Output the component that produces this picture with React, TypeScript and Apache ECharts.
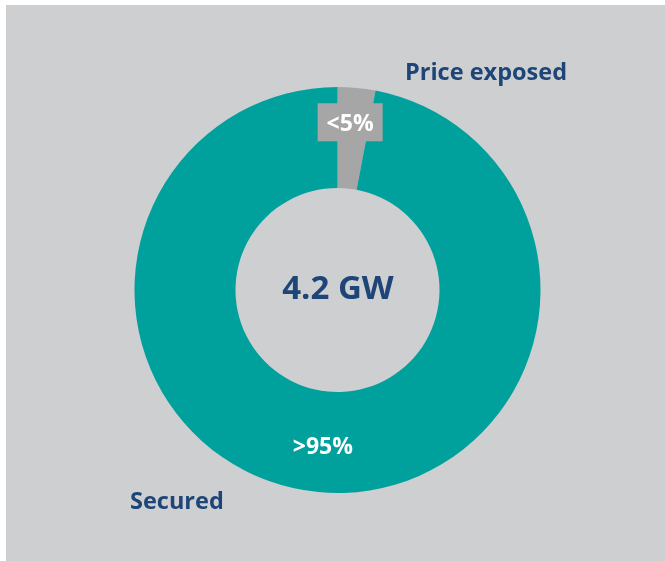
import React, { useEffect, useRef } from "react";
import * as echarts from "echarts";

const categories = ["Price exposed", "Secured"];
const values = [3, 97];
const shareLabels = ["<5%", ">95%"];
const centerLabel = "4.2 GW";
const colors = ["#a6a6a6", "#00a19d"];

const FONT = "'Open Sans', 'DejaVu Sans', sans-serif";
const BLUE = "#1d4577";

export default function App() {
  const ref = useRef<HTMLDivElement>(null);
  useEffect(() => {
    if (!ref.current) return;
    const chart = echarts.init(ref.current, undefined, { renderer: "svg" });
    const data = categories.map((name, i) => ({
      name,
      value: values[i],
      itemStyle: { color: colors[i] },
      label:
        i === 0
          ? {
              backgroundColor: colors[0],
              padding: [8, 9, 8, 9],
              lineHeight: 22,
            }
          : {},
    }));
    chart.setOption({
      animation: false,
      graphic: [
        {
          type: "rect",
          z: -10,
          shape: { x: 6, y: 5, width: 659, height: 556 },
          style: { fill: "#cecfd1" },
        },
        {
          type: "text",
          x: 338,
          y: 286,
          style: {
            text: centerLabel,
            fill: BLUE,
            font: `bold 33px ${FONT}`,
            textAlign: "center",
            textVerticalAlign: "middle",
          },
        },
      ],
      series: [
        {
          type: "pie",
          center: [337.5, 290],
          radius: [102, 203],
          startAngle: 90,
          clockwise: true,
          silent: true,
          data,
          itemStyle: { borderWidth: 0 },
          label: {
            show: true,
            position: "inside",
            formatter: (p: any) => shareLabels[p.dataIndex],
            color: "#ffffff",
            fontFamily: FONT,
            fontWeight: "bold",
            fontSize: 23,
          },
          labelLayout: (p: any) => {
            if (p.dataIndex === 0) {
              return { dy: -13, dx: -2 };
            }
            return {};
          },
          labelLine: { show: false },
        },
        {
          type: "pie",
          center: [337.5, 290],
          radius: [102, 203],
          startAngle: 90,
          clockwise: true,
          silent: true,
          z: 5,
          data: categories.map((name, i) => ({
            name,
            value: values[i],
            itemStyle: { color: "rgba(0,0,0,0)" },
          })),
          label: {
            show: true,
            position: "outside",
            formatter: "{b}",
            color: BLUE,
            fontFamily: FONT,
            fontWeight: "bold",
            fontSize: 23.5,
          },
          labelLine: { show: false },
          labelLayout: (p: any) => {
            if (p.dataIndex === 0) {
              return { x: 405, y: 71, align: "left", verticalAlign: "middle" };
            }
            return { x: 130, y: 500, align: "left", verticalAlign: "middle" };
          },
        },
      ],
    });
    return () => chart.dispose();
  }, []);
  return (
    <div
      ref={ref}
      style={{ position: "fixed", left: 0, top: 0, width: 665, height: 561 }}
    />
  );
}
